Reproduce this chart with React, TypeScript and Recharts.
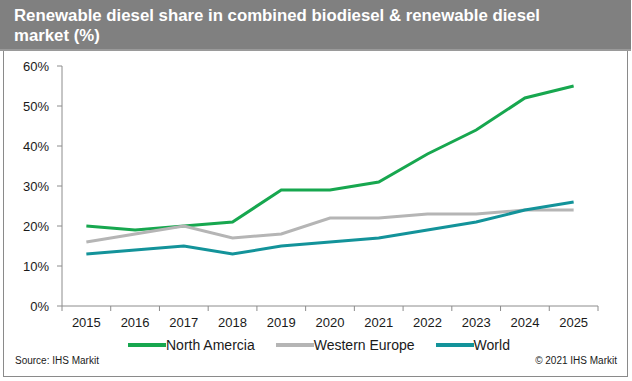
import React from 'react';
import { LineChart, Line, XAxis, YAxis } from 'recharts';

const years = ['2015', '2016', '2017', '2018', '2019', '2020', '2021', '2022', '2023', '2024', '2025'];
const northAmerica = [20, 19, 20, 21, 29, 29, 31, 38, 44, 52, 55];
const westernEurope = [16, 18, 20, 17, 18, 22, 22, 23, 23, 24, 24];
const world = [13, 14, 15, 13, 15, 16, 17, 19, 21, 24, 26];
const yTicks = [0, 10, 20, 30, 40, 50, 60];

const series = [
  { key: 'na', name: 'North Amercia', color: '#17a74f' },
  { key: 'we', name: 'Western Europe', color: '#b5b5b5' },
  { key: 'world', name: 'World', color: '#13939a' },
];

const data = years.map((y, i) => ({
  year: y,
  na: northAmerica[i],
  we: westernEurope[i],
  world: world[i],
}));

const W = 632;
const H = 381;
const M = { top: 66, right: 34, left: 0, bottom: 45 };
const Y_W = 62;
const plotW = W - M.left - M.right - Y_W;
const step = plotW / years.length;
const font = '"Liberation Sans", Arial, sans-serif';
const axisColor = '#8c8c8c';

const XTick = (props: any) => {
  const { x, y, payload, index } = props;
  const top = y - 8;
  return (
    <g>
      <line x1={x - step / 2} x2={x - step / 2} y1={top} y2={top + 5} stroke={axisColor} />
      {index === years.length - 1 && (
        <line x1={x + step / 2} x2={x + step / 2} y1={top} y2={top + 5} stroke={axisColor} />
      )}
      <text x={x} y={top + 21} textAnchor="middle" fontSize={13} fontFamily={font} fill="#1a1a1a">
        {payload.value}
      </text>
    </g>
  );
};

export default function App() {
  return (
    <div style={{ position: 'absolute', left: 0, top: 0, width: W, height: H, background: '#fff', fontFamily: font }}>
      <div
        style={{
          position: 'absolute', left: 3, top: 3, width: W - 7, height: H - 7,
          border: '1px solid #8a8a8a', boxSizing: 'border-box',
        }}
      />
      <div
        style={{
          position: 'absolute', left: 0, top: 0, width: 631, height: 51,
          background: '#808080', borderBottom: '2px solid #9a9a9a', boxSizing: 'border-box',
        }}
      >
        <div
          style={{
            position: 'absolute', left: 14, top: 6, color: '#fff', fontWeight: 'bold',
            fontSize: 16.8, lineHeight: '20px',
          }}
        >
          Renewable diesel share in combined biodiesel &amp; renewable diesel
          <br />
          market (%)
        </div>
      </div>
      <LineChart width={W} height={H} data={data} margin={M} style={{ position: 'absolute', left: 0, top: 0 }}>
        <XAxis
          dataKey="year"
          scale="band"
          height={30}
          stroke={axisColor}
          tickLine={false}
          tick={<XTick />}
          interval={0}
        />
        <YAxis
          width={Y_W}
          domain={[0, 60]}
          ticks={yTicks}
          stroke={axisColor}
          tickSize={5}
          tickMargin={8}
          tickFormatter={(v: number) => `${v}%`}
          tick={{ fontSize: 13, fontFamily: font, fill: '#1a1a1a' }}
        />
        {series.map(s => (
          <Line
            key={s.key}
            dataKey={s.key}
            name={s.name}
            stroke={s.color}
            strokeWidth={3}
            dot={false}
            isAnimationActive={false}
          />
        ))}
      </LineChart>
      <div style={{ position: 'absolute', top: 337, left: 128, display: 'flex' }}>
        {series.map(s => (
          <div key={s.key} style={{ display: 'flex', alignItems: 'center', marginRight: 21, fontSize: 14 }}>
            <span style={{ display: 'inline-block', width: 38, height: 4, background: s.color }} />
            <span style={{ color: '#1a1a1a' }}>{s.name}</span>
          </div>
        ))}
      </div>
      <div style={{ position: 'absolute', left: 15, top: 355, fontSize: 10, color: '#1a1a1a' }}>Source: IHS Markit</div>
      <div style={{ position: 'absolute', right: 15, top: 355, fontSize: 10, color: '#1a1a1a' }}>© 2021 IHS Markit</div>
    </div>
  );
}
